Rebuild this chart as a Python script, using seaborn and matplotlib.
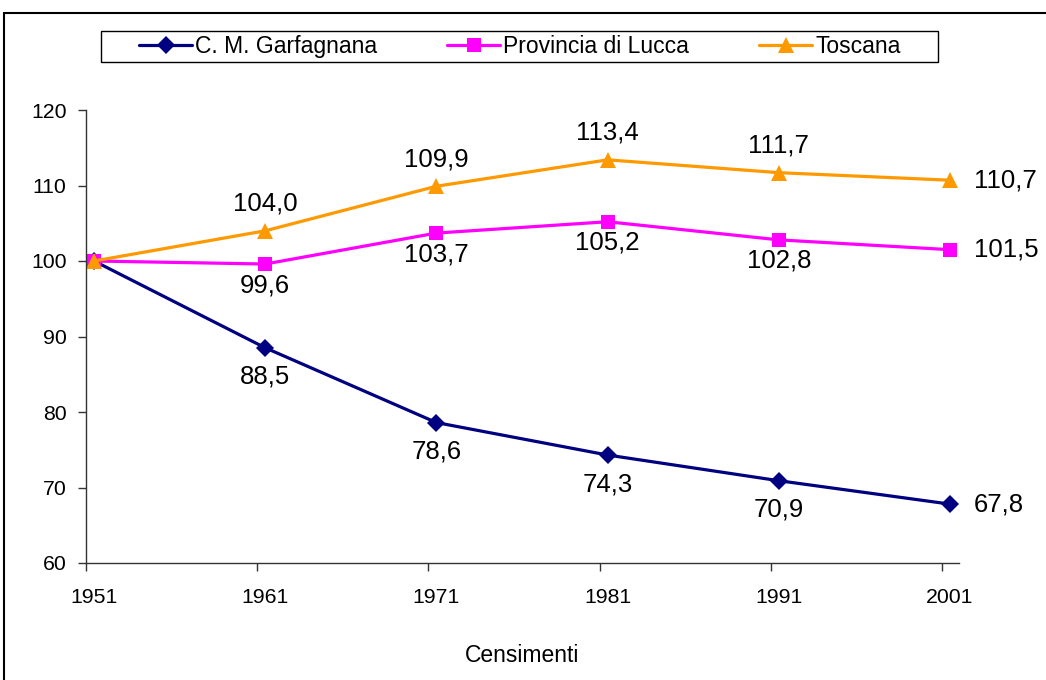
import matplotlib
matplotlib.use("Agg")
import pandas as pd
import seaborn as sns
import matplotlib.pyplot as plt
from matplotlib.patches import Rectangle

# Data
years = [1951, 1961, 1971, 1981, 1991, 2001]
garfagnana = [100.0, 88.5, 78.6, 74.3, 70.9, 67.8]
lucca = [100.0, 99.6, 103.7, 105.2, 102.8, 101.5]
toscana = [100.0, 104.0, 109.9, 113.4, 111.7, 110.7]
series_names = ["C. M. Garfagnana", "Provincia di Lucca", "Toscana"]

sns.set_theme(style="white")
plt.rcParams["font.family"] = ["Liberation Sans", "DejaVu Sans"]
plt.rcParams["text.color"] = "black"
plt.rcParams["xtick.color"] = "black"
plt.rcParams["ytick.color"] = "black"
plt.rcParams["axes.labelcolor"] = "black"

fig = plt.figure(figsize=(10.46, 6.8), dpi=100)
W, H = 1046, 680
ax = fig.add_axes([86 / W, 1 - 563 / H, (959 - 86) / W, (563 - 110) / H])

styles = [
    (garfagnana, "#000080", "D", 9, 29),
    (lucca, "#FF00FF", "s", 9.5, 21),
    (toscana, "#FF9900", "^", 11, -27),
]

for (vals, color, marker, ms, off), name in zip(styles, series_names):
    df = pd.DataFrame({"anno": years, "valore": vals})
    sns.lineplot(data=df, x="anno", y="valore", ax=ax, color=color,
                 marker=marker, markersize=ms, markeredgecolor=color,
                 markeredgewidth=0, linewidth=2.3, label=name)
    # data labels (Excel style): none on 1951, right of point on 2001
    for yr, v in zip(years[1:-1], vals[1:-1]):
        ax.annotate(f"{v:.1f}".replace(".", ","), (yr, v),
                    xytext=(0, -off * 0.72), textcoords="offset points",
                    ha="center", va="center", fontsize=18.5, color="black")
    ax.annotate(f"{vals[-1]:.1f}".replace(".", ","), (years[-1], vals[-1]),
                xytext=(17, 0), textcoords="offset points",
                ha="left", va="center", fontsize=18.5, color="black")

ax.set_xlim(1951 - 0.47, 2001 + 0.53)
ax.set_ylim(60, 120)
ax.set_yticks([60, 70, 80, 90, 100, 110, 120])
ax.set_xticks(years)
ax.set_xticks([y - 0.47 for y in years], minor=True)
ax.tick_params(axis="x", which="major", length=0, labelsize=15.3, pad=18)
ax.tick_params(axis="x", which="minor", length=6, width=1, color="#333333",
               direction="out", bottom=True)
ax.tick_params(axis="y", length=6, width=1, color="#333333", direction="out",
               left=True, labelsize=15.3, pad=8)
ax.set_xlabel("Censimenti", fontsize=16.5, labelpad=27)
ax.set_ylabel("")
for s in ["top", "right"]:
    ax.spines[s].set_visible(False)
for s in ["left", "bottom"]:
    ax.spines[s].set_color("#333333")
    ax.spines[s].set_linewidth(1)

handles, labels = ax.get_legend_handles_labels()
ax.get_legend().remove()
fs = 16.5
px = fs * 100 / 72
leg = fig.legend(handles, labels, ncol=3, loc="center left",
                 bbox_to_anchor=(139 / W, 1 - 46.5 / H),
                 fontsize=fs, frameon=False, handlelength=53 / px,
                 handletextpad=3 / px, columnspacing=70 / px,
                 borderaxespad=0, borderpad=0)
# legend box
fig.patches.append(Rectangle((101 / W, 1 - 62 / H), 837 / W, 31 / H,
                             transform=fig.transFigure, fill=False,
                             edgecolor="black", linewidth=1))

# outer chart border
fig.patches.append(Rectangle((4 / W, -0.1), 1.2, 1.1 - 13 / H,
                             transform=fig.transFigure, fill=False,
                             edgecolor="black", linewidth=1.5))

fig.savefig("out.png", dpi=100)
